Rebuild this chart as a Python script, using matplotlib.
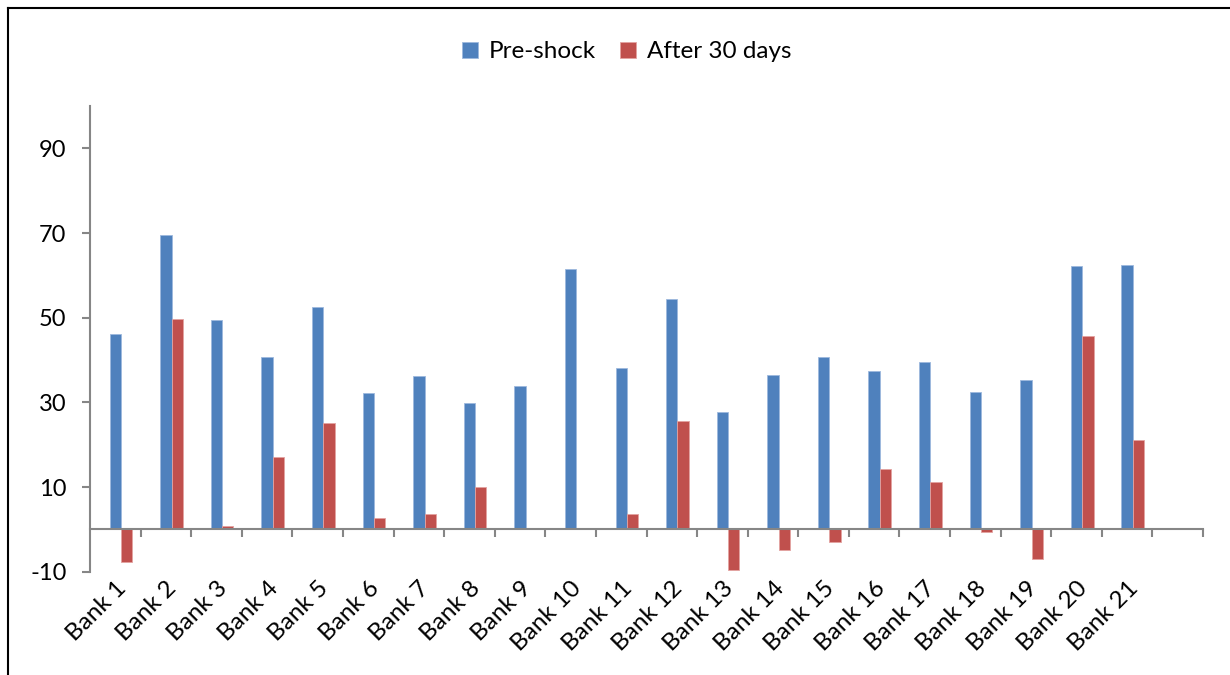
import matplotlib
matplotlib.use("Agg")
import matplotlib.pyplot as plt
from matplotlib.lines import Line2D
import numpy as np

banks = [f"Bank {i}" for i in range(1, 22)]
pre_shock = [46.1, 69.5, 49.5, 40.6, 52.6, 32.1, 36.2, 29.8, 33.9, 61.5, 38.0,
             54.4, 27.7, 36.4, 40.6, 37.5, 39.6, 32.5, 35.2, 62.1, 62.4]
after_30 = [-7.7, 49.7, 0.8, 17.0, 25.1, 2.6, 3.6, 10.1, 0.2, 0.4, 3.6,
            25.5, -9.6, -4.9, -2.9, 14.2, 11.2, -0.6, -7.0, 45.6, 21.2]
y_ticks = [-10, 10, 30, 50, 70, 90]

BLUE = "#4F81BD"
RED = "#C0504D"
GRAY = "#868686"
FONT = "Lato"

fig = plt.figure(figsize=(12.3, 6.75), dpi=100)
ax = fig.add_axes([90/1230, 1-571.7/675, (1203-90)/1230, (571.7-106)/675])

n_cat = len(banks) + 1  # one empty category at the end
x = np.arange(len(banks))
w = 0.224
ax.bar(x, pre_shock, width=w, color=BLUE, edgecolor="#9DB9DD", linewidth=0.6, label="Pre-shock", zorder=2)
ax.bar(x + w, after_30, width=w, color=RED, edgecolor="#E3A3A1", linewidth=0.6, label="After 30 days", zorder=2)

ax.set_xlim(-0.5, n_cat - 0.5)
ax.set_ylim(-10, 100)

for s in ["top", "right"]:
    ax.spines[s].set_visible(False)
ax.spines["left"].set_color(GRAY)
ax.spines["left"].set_linewidth(1.5)
ax.spines["bottom"].set_position(("data", 0))
ax.spines["bottom"].set_color(GRAY)
ax.spines["bottom"].set_linewidth(1.5)
ax.spines["bottom"].set_zorder(3)

ax.set_yticks(y_ticks)
ax.set_yticklabels([str(v) for v in y_ticks], fontsize=17, family=FONT)
ax.tick_params(axis="y", direction="out", length=6, width=1.5, color=GRAY, pad=11)

bounds = np.arange(0.5, n_cat, 1.0)
ax.set_xticks(bounds)
ax.set_xticklabels([])
ax.tick_params(axis="x", which="major", direction="out", length=6, width=1.5, color=GRAY)
ax.set_xticks(np.arange(n_cat), minor=True)
ax.set_xticklabels(banks + [""], minor=True, fontsize=17.5, family=FONT,
                   rotation=45, ha="right", rotation_mode="anchor")
ax.tick_params(axis="x", which="minor", length=0, pad=35)

fig.legend(loc="center", bbox_to_anchor=(627/1230, 1-52/675), ncol=2, frameon=False,
           prop={"family": FONT, "size": 17.5}, handlelength=0.65, handleheight=0.65,
           handletextpad=0.45, columnspacing=1.0)

# outer chart-area border (left and top visible)
fig.add_artist(Line2D([8/1230, 8/1230], [0, 1-8/675], transform=fig.transFigure, color="black", lw=1.5))
fig.add_artist(Line2D([8/1230, 1], [1-8/675, 1-8/675], transform=fig.transFigure, color="black", lw=1.5))

fig.savefig("out.png", dpi=100)
